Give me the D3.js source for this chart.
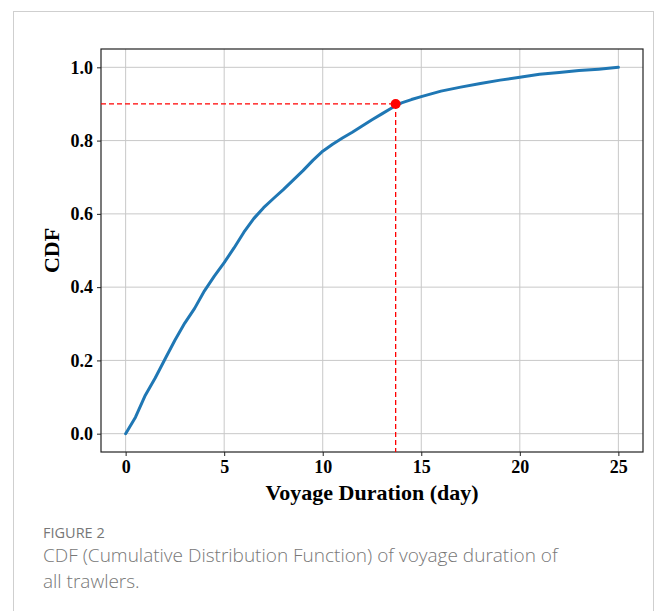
<!DOCTYPE html>
<html>
<head>
<meta charset="utf-8">
<script src="https://cdn.jsdelivr.net/npm/d3@7"></script>
<style>
  html, body { margin: 0; padding: 0; background: #fff; }
  svg { display: block; }
</style>
</head>
<body>
<svg id="chart" width="658" height="611"></svg>
<script>
// Data
const durationDays = [0, 0.5, 1, 1.5, 2, 2.5, 3, 3.5, 4, 4.5, 5, 5.5, 6, 6.5, 7, 7.5, 8, 8.5, 9, 9.5, 10, 10.5, 11, 11.5, 12, 12.5, 13, 13.5, 14, 14.5, 15, 16, 17, 18, 19, 20, 21, 22, 23, 24, 25];
const cdfValues = [0, 0.045, 0.105, 0.152, 0.204, 0.255, 0.302, 0.342, 0.390, 0.430, 0.467, 0.507, 0.550, 0.587, 0.617, 0.642, 0.666, 0.692, 0.718, 0.746, 0.771, 0.790, 0.807, 0.823, 0.840, 0.857, 0.873, 0.889, 0.903, 0.912, 0.920, 0.935, 0.946, 0.956, 0.965, 0.973, 0.981, 0.986, 0.991, 0.995, 1.0];
const markerPoint = [13.7, 0.9];
const xTicks = [0, 5, 10, 15, 20, 25];
const yTicks = [0.0, 0.2, 0.4, 0.6, 0.8, 1.0];
const xLabel = "Voyage Duration (day)";
const yLabel = "CDF";
const figureLabel = "FIGURE 2";
const captionLines = ["CDF (Cumulative Distribution Function) of voyage duration of", "all trawlers."];

const svg = d3.select("#chart");

// frame
svg.append("rect")
  .attr("x", 13.5).attr("y", 11.5)
  .attr("width", 640).attr("height", 640)
  .attr("fill", "none").attr("stroke", "#cfcfcf").attr("stroke-width", 1);

const plot = { left: 101, right: 643, top: 49, bottom: 452 };
const x = d3.scaleLinear().domain([-1.25, 26.25]).range([plot.left, plot.right]);
const y = d3.scaleLinear().domain([-0.05, 1.05]).range([plot.bottom, plot.top]);

const serif = "'Liberation Serif', 'Times New Roman', serif";

// grid
const grid = svg.append("g");
grid.selectAll(".gx").data(xTicks).join("line")
  .attr("x1", d => x(d)).attr("x2", d => x(d))
  .attr("y1", plot.top).attr("y2", plot.bottom)
  .attr("stroke", "#c8c8c8").attr("stroke-width", 1);
grid.selectAll(".gy").data(yTicks).join("line")
  .attr("x1", plot.left).attr("x2", plot.right)
  .attr("y1", d => y(d)).attr("y2", d => y(d))
  .attr("stroke", "#c8c8c8").attr("stroke-width", 1);

// axes
const xAxis = d3.axisBottom(x).tickValues(xTicks).tickFormat(d3.format("d")).tickSize(4).tickPadding(4);
const yAxis = d3.axisLeft(y).tickValues(yTicks).tickFormat(d3.format(".1f")).tickSize(4).tickPadding(4);

const gx = svg.append("g").attr("transform", `translate(0,${plot.bottom})`).call(xAxis);
const gy = svg.append("g").attr("transform", `translate(${plot.left},0)`).call(yAxis);
[gx, gy].forEach(g => {
  g.select(".domain").remove();
  g.selectAll(".tick line").attr("stroke", "#222").attr("stroke-width", 1);
  g.selectAll(".tick text")
    .attr("font-family", serif).attr("font-weight", "bold")
    .attr("font-size", 18).attr("fill", "#000");
});

// spines
svg.append("rect")
  .attr("x", plot.left).attr("y", plot.top)
  .attr("width", plot.right - plot.left).attr("height", plot.bottom - plot.top)
  .attr("fill", "none").attr("stroke", "#222").attr("stroke-width", 1.2);

// CDF line
const line = d3.line().x((d, i) => x(durationDays[i])).y(d => y(d));
svg.append("path")
  .datum(cdfValues)
  .attr("d", line)
  .attr("fill", "none")
  .attr("stroke", "#1f77b4")
  .attr("stroke-width", 3)
  .attr("stroke-linejoin", "round")
  .attr("stroke-linecap", "round");

// dashed guides
svg.append("line")
  .attr("x1", plot.left).attr("x2", x(markerPoint[0]))
  .attr("y1", y(markerPoint[1])).attr("y2", y(markerPoint[1]))
  .attr("stroke", "red").attr("stroke-width", 1.3).attr("stroke-dasharray", "5,3");
svg.append("line")
  .attr("x1", x(markerPoint[0])).attr("x2", x(markerPoint[0]))
  .attr("y1", y(markerPoint[1])).attr("y2", plot.bottom)
  .attr("stroke", "red").attr("stroke-width", 1.3).attr("stroke-dasharray", "5,3");
svg.append("circle")
  .attr("cx", x(markerPoint[0])).attr("cy", y(markerPoint[1]))
  .attr("r", 5).attr("fill", "red");

// axis labels
svg.append("text")
  .attr("x", (plot.left + plot.right) / 2).attr("y", 500)
  .attr("text-anchor", "middle")
  .attr("font-family", serif).attr("font-weight", "bold").attr("font-size", 22)
  .text(xLabel);
svg.append("text")
  .attr("transform", `translate(59,${(plot.top + plot.bottom) / 2}) rotate(-90)`)
  .attr("text-anchor", "middle")
  .attr("font-family", serif).attr("font-weight", "bold").attr("font-size", 22)
  .text(yLabel);

// caption
svg.append("text")
  .attr("x", 43).attr("y", 538)
  .attr("font-family", "'Open Sans', sans-serif").attr("font-size", 14.5)
  .attr("fill", "#777")
  .text(figureLabel);
svg.selectAll(".cap").data(captionLines).join("text")
  .attr("x", 43).attr("y", (d, i) => 562 + i * 26)
  .attr("font-family", "'Open Sans', sans-serif").attr("font-weight", 300).attr("font-size", 19)
  .attr("fill", "#777")
  .text(d => d);
</script>
</body>
</html>
